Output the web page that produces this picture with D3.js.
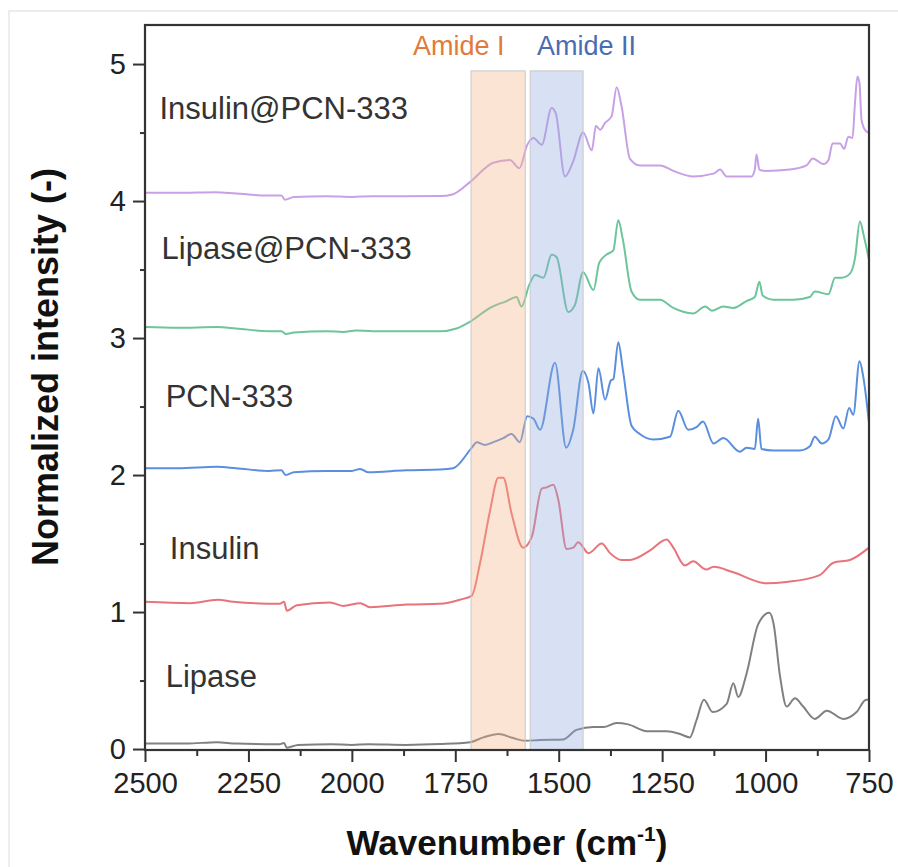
<!DOCTYPE html>
<html>
<head>
<meta charset="utf-8">
<script src="https://cdn.jsdelivr.net/npm/d3@7"></script>
<style>
  body { margin: 0; background: #fff; }
  svg text { font-family: "Liberation Sans", Arial, sans-serif; }
</style>
</head>
<body>
<div id="chart"></div>
<script>
// spectra as [wavenumber, normalized intensity], offset already included
const lipase = [[2500,0.04],[2400,0.04],[2326,0.05],[2280,0.04],[2175,0.035],[2164,0.045],[2157,0.01],[2130,0.03],[2050,0.035],[2000,0.03],[1960,0.035],[1870,0.03],[1787,0.036],[1714,0.05],[1682,0.085],[1646,0.11],[1610,0.08],[1582,0.06],[1545,0.066],[1489,0.07],[1457,0.14],[1416,0.16],[1392,0.16],[1360,0.19],[1332,0.18],[1287,0.13],[1239,0.13],[1207,0.11],[1183,0.085],[1167,0.21],[1149,0.36],[1128,0.27],[1094,0.33],[1078,0.48],[1066,0.38],[1046,0.55],[1018,0.91],[991,0.995],[981,0.92],[965,0.53],[949,0.31],[929,0.37],[909,0.31],[881,0.22],[852,0.28],[812,0.22],[780,0.27],[757,0.36],[750,0.36]];

const insulin = [[2500,1.075],[2391,1.065],[2324,1.09],[2287,1.075],[2174,1.06],[2164,1.075],[2157,1.01],[2133,1.05],[2053,1.07],[2021,1.045],[1980,1.065],[1956,1.035],[1867,1.055],[1787,1.06],[1739,1.09],[1710,1.12],[1690,1.36],[1666,1.74],[1646,1.98],[1634,1.98],[1614,1.72],[1586,1.47],[1565,1.55],[1541,1.90],[1529,1.91],[1513,1.93],[1501,1.82],[1481,1.46],[1465,1.47],[1453,1.51],[1428,1.43],[1396,1.50],[1376,1.43],[1348,1.38],[1328,1.38],[1279,1.45],[1239,1.53],[1223,1.47],[1195,1.34],[1175,1.37],[1143,1.31],[1126,1.33],[1078,1.29],[997,1.21],[949,1.22],[869,1.27],[836,1.36],[796,1.38],[750,1.47]];

const pcn333 = [[2500,2.05],[2420,2.05],[2326,2.06],[2280,2.05],[2200,2.03],[2170,2.035],[2160,2.00],[2140,2.02],[2060,2.03],[2000,2.03],[1980,2.045],[1960,2.02],[1870,2.035],[1787,2.04],[1755,2.05],[1710,2.20],[1698,2.24],[1678,2.22],[1658,2.24],[1634,2.27],[1614,2.30],[1594,2.24],[1576,2.43],[1561,2.41],[1545,2.33],[1509,2.82],[1482,2.20],[1465,2.33],[1442,2.76],[1428,2.67],[1416,2.45],[1404,2.78],[1388,2.55],[1374,2.69],[1368,2.70],[1356,2.97],[1345,2.77],[1324,2.36],[1304,2.30],[1271,2.26],[1231,2.28],[1211,2.47],[1187,2.33],[1167,2.35],[1151,2.39],[1126,2.23],[1102,2.27],[1062,2.17],[1046,2.20],[1026,2.19],[1018,2.41],[1010,2.19],[981,2.18],[917,2.18],[893,2.21],[881,2.28],[864,2.23],[848,2.26],[830,2.43],[812,2.34],[798,2.49],[788,2.44],[773,2.83],[764,2.72],[750,2.38]];

const lipasePcn = [[2500,3.08],[2420,3.075],[2326,3.08],[2280,3.07],[2200,3.05],[2170,3.05],[2160,3.03],[2140,3.04],[2060,3.05],[2021,3.045],[1990,3.055],[1950,3.05],[1870,3.05],[1787,3.05],[1747,3.07],[1714,3.12],[1666,3.22],[1626,3.27],[1602,3.30],[1590,3.23],[1571,3.39],[1557,3.46],[1537,3.44],[1517,3.61],[1505,3.59],[1477,3.19],[1461,3.24],[1441,3.48],[1416,3.35],[1402,3.55],[1384,3.61],[1368,3.64],[1356,3.86],[1345,3.72],[1324,3.34],[1304,3.28],[1255,3.28],[1223,3.22],[1175,3.18],[1146,3.23],[1130,3.20],[1102,3.23],[1078,3.22],[1046,3.27],[1026,3.30],[1015,3.41],[1007,3.31],[981,3.28],[933,3.28],[893,3.30],[881,3.34],[848,3.32],[832,3.44],[816,3.44],[796,3.47],[784,3.58],[772,3.85],[762,3.74],[750,3.57]];

const insulinPcn = [[2500,4.06],[2420,4.06],[2330,4.065],[2280,4.055],[2205,4.04],[2170,4.04],[2162,4.01],[2140,4.03],[2060,4.035],[2000,4.03],[1950,4.035],[1870,4.035],[1787,4.036],[1755,4.05],[1714,4.14],[1658,4.28],[1618,4.30],[1595,4.24],[1576,4.41],[1561,4.46],[1541,4.41],[1517,4.68],[1507,4.64],[1485,4.18],[1465,4.29],[1441,4.50],[1420,4.37],[1410,4.55],[1400,4.52],[1388,4.57],[1372,4.62],[1360,4.83],[1348,4.69],[1328,4.31],[1304,4.26],[1255,4.26],[1223,4.22],[1175,4.18],[1126,4.20],[1110,4.23],[1094,4.18],[1034,4.18],[1026,4.23],[1022,4.34],[1015,4.23],[1001,4.22],[941,4.23],[901,4.26],[886,4.31],[860,4.27],[848,4.30],[838,4.42],[820,4.42],[810,4.38],[800,4.47],[790,4.46],[784,4.71],[778,4.91],[773,4.86],[768,4.59],[757,4.51],[750,4.50]];

const seriesNames = ["Lipase", "Insulin", "PCN-333", "Lipase@PCN-333", "Insulin@PCN-333"];
const seriesData = [lipase, insulin, pcn333, lipasePcn, insulinPcn];

const bandNames = ["Amide I", "Amide II"];
const bandRanges = [[1712, 1581], [1569, 1441]];
const bandTop = 4.95;

const xTicks = [2500, 2250, 2000, 1750, 1500, 1250, 1000, 750];
const yTicks = [0, 1, 2, 3, 4, 5];

// styles
const lineColors = ["#808080", "#e8737b", "#5b8fde", "#6cc59b", "#c7a0e6"];
const bandFills = ["#f4b183", "#8faadc"];
const bandTextColors = ["#e07b39", "#4a6cb3"];

const W = 898, H = 867;
const plot = {left: 145, right: 869, top: 25, bottom: 750};

const svg = d3.select("#chart").append("svg")
    .attr("width", W)
    .attr("height", H);

// faint outer frame
svg.append("path")
    .attr("d", `M9,${H} V11 H${W}`)
    .attr("fill", "none")
    .attr("stroke", "#e8e8e8")
    .attr("stroke-width", 1.5);

const x = d3.scaleLinear().domain([2500, 750]).range([plot.left, plot.right]);
const y = d3.scaleLinear().domain([-0.007, 5.285]).range([plot.bottom, plot.top]);

svg.append("clipPath").attr("id", "clip")
    .append("rect")
    .attr("x", plot.left).attr("y", plot.top)
    .attr("width", plot.right - plot.left).attr("height", plot.bottom - plot.top);

const line = d3.line()
    .x(d => x(d[0]))
    .y(d => y(d[1]))
    .curve(d3.curveMonotoneX);

const lines = svg.append("g").attr("clip-path", "url(#clip)");
seriesData.forEach((data, i) => {
    lines.append("path")
        .datum(data)
        .attr("fill", "none")
        .attr("stroke", lineColors[i])
        .attr("stroke-width", 2)
        .attr("stroke-linejoin", "round")
        .attr("d", line);
});

// amide bands sit over the lines, semi transparent
bandRanges.forEach((r, i) => {
    svg.append("rect")
        .attr("x", x(r[0]))
        .attr("y", y(bandTop))
        .attr("width", x(r[1]) - x(r[0]))
        .attr("height", plot.bottom - y(bandTop))
        .attr("fill", bandFills[i])
        .attr("fill-opacity", 0.35)
        .attr("stroke", "#c8c8c8")
        .attr("stroke-width", 1);
});

// band labels
const bandLabelX = [413, 537];
bandNames.forEach((name, i) => {
    svg.append("text")
        .attr("x", bandLabelX[i])
        .attr("y", 55)
        .attr("font-size", 27)
        .attr("fill", bandTextColors[i])
        .text(name);
});

// curve labels
const labelPos = [[2450, 0.45], [2440, 1.39], [2450, 2.5], [2460, 3.58], [2465, 4.6]];
seriesNames.forEach((name, i) => {
    svg.append("text")
        .attr("x", x(labelPos[i][0]))
        .attr("y", y(labelPos[i][1]))
        .attr("font-size", 31)
        .attr("fill", "#333")
        .text(name);
});

// axes
const xAxis = svg.append("g")
    .attr("transform", `translate(0,${plot.bottom})`)
    .call(d3.axisBottom(x).tickValues(xTicks).tickSize(12).tickPadding(10).tickFormat(d3.format("d")));
const xMinor = svg.append("g")
    .attr("transform", `translate(0,${plot.bottom})`)
    .call(d3.axisBottom(x).tickValues(d3.range(2375, 750, -250)).tickSize(6).tickFormat(""));

const yAxis = svg.append("g")
    .attr("transform", `translate(${plot.left},0)`)
    .call(d3.axisLeft(y).tickValues(yTicks).tickSize(12).tickPadding(7).tickFormat(d3.format("d")));
const yMinor = svg.append("g")
    .attr("transform", `translate(${plot.left},0)`)
    .call(d3.axisLeft(y).tickValues(d3.range(0.5, 5, 1)).tickSize(5).tickFormat(""));

[xAxis, xMinor, yAxis, yMinor].forEach(g => {
    g.select(".domain").remove();
    g.selectAll("line").attr("stroke", "#333").attr("stroke-width", 2);
    g.selectAll("text")
        .attr("font-size", 29)
        .attr("fill", "#222")
        .style("font-family", "'Liberation Sans', Arial, sans-serif");
});

// frame
svg.append("rect")
    .attr("x", plot.left).attr("y", plot.top)
    .attr("width", plot.right - plot.left).attr("height", plot.bottom - plot.top)
    .attr("fill", "none")
    .attr("stroke", "#333")
    .attr("stroke-width", 2.2);

// axis titles
const xTitle = svg.append("text")
    .attr("x", 507)
    .attr("y", 855)
    .attr("text-anchor", "middle")
    .attr("font-size", 35)
    .attr("font-weight", "bold")
    .attr("fill", "#111");
xTitle.append("tspan").text("Wavenumber (cm");
xTitle.append("tspan").attr("font-size", 21).attr("dy", -14).text("-1");
xTitle.append("tspan").attr("dy", 14).text(")");

svg.append("text")
    .attr("transform", "translate(58,367) rotate(-90)")
    .attr("text-anchor", "middle")
    .attr("font-size", 36)
    .attr("font-weight", "bold")
    .attr("fill", "#111")
    .text("Normalized intensity (-)");
</script>
</body>
</html>
